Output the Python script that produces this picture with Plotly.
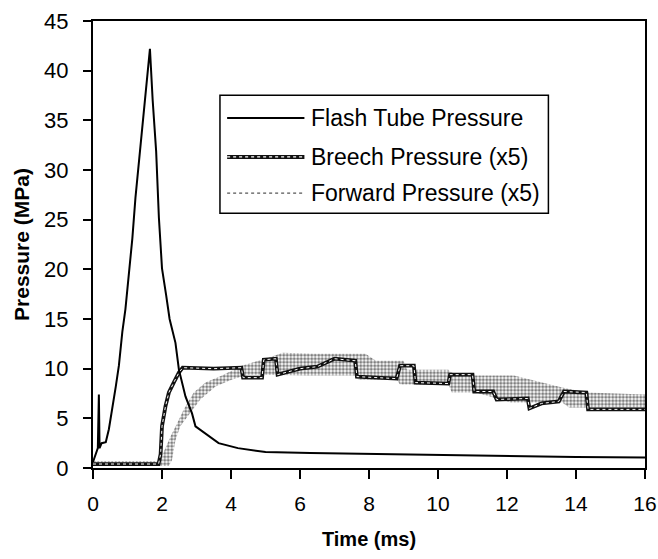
import plotly.graph_objects as go

# ---- data ----
flash_t = [0.0, 0.08, 0.14, 0.17, 0.19, 0.25, 0.37, 0.46, 0.56, 0.66, 0.75, 0.85, 0.94, 1.04, 1.14,
           1.23, 1.36, 1.45, 1.57, 1.65, 1.73, 1.83, 1.91, 2.0, 2.12, 2.22, 2.39, 2.49, 2.68, 2.87,
           2.97, 3.26, 3.64, 4.2, 5.0, 6.3, 8.3, 10.0, 12.0, 14.0, 16.0]
flash_p = [0.6, 1.5, 2.0, 7.4, 2.0, 2.5, 2.6, 3.9, 5.9, 8.2, 10.3, 13.7, 16.0, 19.4, 23.1,
           27.2, 31.9, 35.3, 39.7, 42.2, 37.0, 31.9, 25.2, 20.1, 17.4, 15.0, 12.6, 9.9, 7.2, 5.5,
           4.2, 3.5, 2.5, 2.0, 1.6, 1.5, 1.4, 1.25, 1.15, 1.1, 1.05]

breech_t = [0.0, 1.9, 1.96, 2.0, 2.1, 2.2, 2.34, 2.49, 2.6, 3.5, 4.3, 4.35, 4.9, 4.95, 5.3, 5.35,
            6.0, 6.5, 7.0, 7.6, 7.65, 8.8, 8.9, 9.3, 9.35, 10.3, 10.35, 11.0, 11.05, 11.6, 11.7,
            12.6, 12.65, 13.0, 13.5, 13.65, 14.3, 14.35, 16.0]
breech_p = [0.4, 0.4, 1.4, 4.2, 6.2, 7.6, 8.6, 9.6, 10.1, 10.0, 10.1, 9.1, 9.1, 10.9, 11.0, 9.4,
            10.0, 10.2, 11.0, 10.8, 9.2, 9.0, 10.3, 10.3, 8.6, 8.5, 9.4, 9.4, 7.7, 7.7, 6.9,
            7.0, 6.0, 6.5, 6.7, 7.7, 7.6, 5.9, 5.9]

fwd_hi_t = [0.0, 1.95, 2.05, 2.25, 2.44, 2.63, 2.92, 3.26, 3.74, 4.31, 5.0, 5.5, 6.4, 7.9, 8.2,
            9.0, 9.1, 10.3, 10.4, 11.1, 12.2, 13.6, 14.3, 15.8, 16.0]
fwd_hi = [0.7, 0.7, 1.6, 3.2, 4.5, 5.9, 7.6, 8.6, 9.3, 10.3, 11.0, 11.6, 11.5, 11.5, 10.8,
          10.8, 9.9, 9.9, 9.6, 9.3, 9.3, 8.1, 7.6, 7.4, 7.4]
fwd_lo_t = [0.0, 2.2, 2.29, 2.39, 2.53, 2.82, 3.11, 3.55, 4.03, 4.5, 5.0, 6.2, 7.6, 7.7, 8.8,
            8.9, 10.3, 10.4, 11.1, 12.1, 13.6, 13.8, 16.0]
fwd_lo = [0.2, 0.2, 0.8, 2.8, 4.2, 5.6, 6.9, 8.2, 8.9, 9.4, 9.4, 9.3, 9.3, 8.9, 8.9,
          8.4, 8.4, 7.6, 7.6, 6.6, 6.6, 6.1, 6.1]

x_ticks = [0, 2, 4, 6, 8, 10, 12, 14, 16]
y_ticks = [0, 5, 10, 15, 20, 25, 30, 35, 40, 45]
legend_names = ["Flash Tube Pressure", "Breech Pressure (x5)", "Forward Pressure (x5)"]

FONT = "Arial, Liberation Sans, sans-serif"

fig = go.Figure()

# Forward pressure band (stippled)
fig.add_trace(go.Scatter(
    x=fwd_hi_t + fwd_lo_t[::-1], y=fwd_hi + fwd_lo[::-1],
    mode="lines", fill="toself", line=dict(width=0, color="rgba(0,0,0,0)"),
    fillcolor="rgba(0,0,0,0)",
    fillpattern=dict(shape=".", fgcolor="black", bgcolor="white", size=3.5, solidity=0.6),
    showlegend=False, hoverinfo="skip"))

# Breech pressure: chain of small circles
fig.add_trace(go.Scatter(x=breech_t, y=breech_p, mode="lines",
                         line=dict(color="#111111", width=3.8), showlegend=False))
fig.add_trace(go.Scatter(x=breech_t, y=breech_p, mode="lines",
                         line=dict(color="white", width=1.0, dash="dot"), showlegend=False))

# Flash tube pressure
fig.add_trace(go.Scatter(x=flash_t, y=flash_p, mode="lines",
                         line=dict(color="black", width=2), showlegend=False))

# ---- manual legend ----
shapes = [dict(type="rect", xref="paper", yref="paper", x0=0.230, x1=0.825, y0=0.570, y1=0.834,
               line=dict(color="black", width=1.5), fillcolor="white", layer="above")]
rows = [0.783, 0.696, 0.615]
shapes.append(dict(type="line", xref="paper", yref="paper", x0=0.243, x1=0.383, y0=rows[0], y1=rows[0],
                   line=dict(color="black", width=1.8), layer="above"))
shapes.append(dict(type="line", xref="paper", yref="paper", x0=0.243, x1=0.383, y0=rows[1], y1=rows[1],
                   line=dict(color="#111111", width=4), layer="above"))
shapes.append(dict(type="line", xref="paper", yref="paper", x0=0.243, x1=0.383, y0=rows[1], y1=rows[1],
                   line=dict(color="white", width=1.2, dash="dot"), layer="above"))
shapes.append(dict(type="line", xref="paper", yref="paper", x0=0.243, x1=0.383, y0=rows[2], y1=rows[2],
                   line=dict(color="#555555", width=1.3, dash="dot"), layer="above"))

annotations = []
for name, ry in zip(legend_names, rows):
    annotations.append(dict(xref="paper", yref="paper", x=0.392, y=ry, text=name, showarrow=False,
                            xanchor="left", yanchor="middle", font=dict(family=FONT, size=23, color="black")))

fig.update_layout(
    width=658, height=559,
    margin=dict(l=93, r=13, t=21, b=91, autoexpand=False),
    paper_bgcolor="white", plot_bgcolor="white",
    font=dict(family=FONT, color="black"),
    shapes=shapes, annotations=annotations,
    showlegend=False,
)
fig.update_xaxes(range=[0, 16], tickvals=x_ticks, ticktext=[str(v) for v in x_ticks],
                 showgrid=False, zeroline=False, showline=True, linecolor="black", linewidth=2,
                 mirror=True, ticks="outside", ticklen=9, tickwidth=1.5, tickcolor="black",
                 tickfont=dict(family=FONT, size=21), ticklabelstandoff=7, automargin=False,
                 ticklabeloverflow="allow",
                 title=dict(text="<b>Time (ms)</b>", font=dict(family=FONT, size=20), standoff=18))
fig.update_yaxes(range=[0, 45], tickvals=y_ticks, ticktext=[str(v) for v in y_ticks],
                 showgrid=False, zeroline=False, showline=True, linecolor="black", linewidth=2,
                 mirror=True, ticks="outside", ticklen=8, tickwidth=1.5, tickcolor="black",
                 tickfont=dict(family=FONT, size=22), ticklabelstandoff=10, automargin=False,
                 title=dict(text="<b>Pressure (MPa)</b>", font=dict(family=FONT, size=21), standoff=9))

fig.write_html("out.html", config={"displayModeBar": False},
               post_script="document.body.style.margin='0px';document.body.style.overflow='hidden';")
